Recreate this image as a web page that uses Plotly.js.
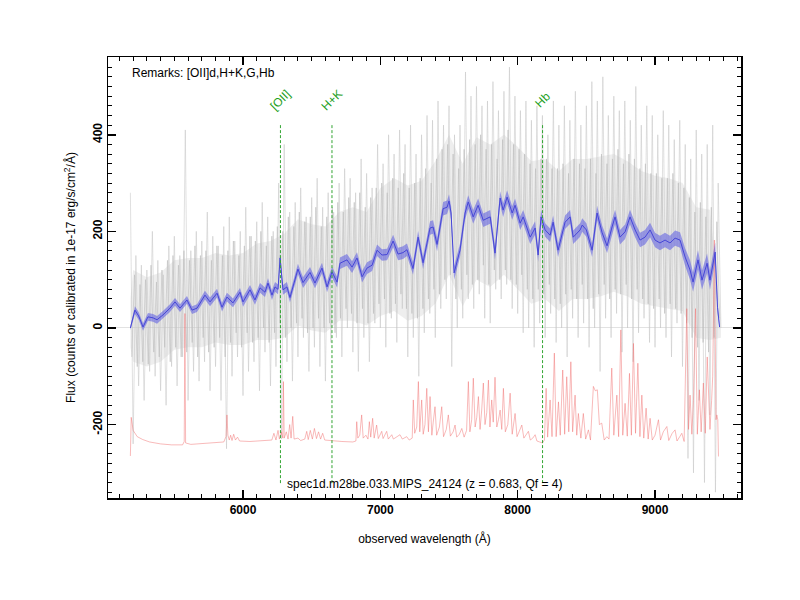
<!DOCTYPE html>
<html><head><meta charset="utf-8">
<script src="https://cdn.plot.ly/plotly-3.0.1.min.js"></script>
<style>body{margin:0;background:#fff}#c{width:800px;height:600px}</style>
</head><body><div id="c"></div>
<script>
// ---- data ----
var z = 0.683;
var lineNames = ['[OII]', 'H+K', 'Hb'];
var lineRest = [3727, 3950, 4861];
var lineTop = 420, lineBottom = -323, labelY = 472;

// gray core envelope of raw spectrum (every 100 A)
var coreWave = [5180,5200,5300,5400,5500,5600,5700,5800,5900,6000,6100,6200,6300,6400,6500,6600,6700,6800,6900,7000,7100,7200,7300,7400,7500,7600,7700,7800,7900,8000,8100,8200,8300,8400,8500,8600,8700,8800,8900,9000,9100,9200,9300,9400,9480];
var coreUpper = [60,120,105,115,140,145,145,155,150,155,175,180,195,225,215,210,240,250,240,290,310,295,305,345,400,340,395,380,400,375,345,350,325,350,350,355,360,345,325,315,310,300,250,245,20];
var coreLower = [-40,-70,-80,-70,-45,-40,-40,-30,-35,-35,-25,-25,-20,5,-5,-10,15,15,5,25,35,15,25,50,110,45,100,85,110,80,50,60,35,60,60,65,75,65,50,45,40,35,-20,-25,-20];

// raw spectrum spikes, sampled every 20 A from 5180 A
var rawStart = 5180, rawStep = 20;
var rawFlux = [
 280,-240,150,-120,130,
 -150,120,-90,200,-100,
 140,-130,110,-160,170,
 -80,190,-120,150,-60,
 410,-150,160,-90,200,
 -110,180,-70,240,-130,
 190,-80,170,-150,210,
 -250,230,-100,180,-60,
 200,-140,250,-90,190,
 -70,220,-130,260,-50,
 230,-120,200,-80,300,
 -230,380,-70,240,-110,
 260,-60,290,-20,230,
 -90,270,-40,310,-80,
 250,-110,280,-30,240,
 -20,300,-60,330,0,
 310,-50,280,-90,350,
 -20,320,-70,290,10,
 380,0,340,-40,400,
 20,360,-30,410,40,
 380,-60,420,-20,360,
 -100,400,-10,440,30,
 430,-20,470,40,420,
 60,460,-80,400,0,
 420,20,530,60,480,
 40,500,70,460,20,
 470,10,510,80,450,
 60,490,90,540,40,
 480,30,450,-10,470,
 0,430,-40,460,10,
 440,-20,400,30,470,
 -30,420,0,460,-60,
 430,20,490,-20,420,
 10,460,-40,510,0,
 470,-90,520,20,440,
 -20,480,30,450,-50,
 470,0,430,-70,500,
 -10,420,20,460,-30,
 440,-40,400,0,450,
 -20,420,-60,390,10,
 430,-80,380,-270,350,
 -300,410,-150,360,-320,
 380,-180,420,-340,300,
 0];

// raw spectrum, second set of samples, every 20 A from 5190 A
var raw2Start = 5190, raw2Step = 20;
var raw2Flux = [
 -60,110,-80,90,-70,
 100,-75,130,-50,95,
 -60,120,-40,140,-70,
 150,-40,130,-60,160,
 -50,140,-30,170,-60,
 150,-20,160,-50,140,
 -40,170,-20,150,-60,
 160,-30,180,-10,150,
 -40,170,-10,190,-30,
 180,-20,200,0,170,
 -30,190,-10,210,10,
 200,-20,230,0,210,
 10,240,20,220,-10,
 230,0,250,20,210,
 0,230,10,250,-10,
 260,20,240,40,270,
 30,260,10,280,40,
 250,10,270,30,290,
 50,300,60,280,30,
 310,50,290,70,320,
 40,290,30,300,20,
 310,40,330,60,300,
 80,350,70,370,100,
 380,110,360,60,330,
 80,370,110,390,90,
 380,100,400,130,370,
 90,380,120,350,100,
 390,120,410,100,380,
 90,370,110,360,80,
 340,60,330,80,350,
 70,350,90,330,60,
 330,50,340,70,320,
 80,350,60,340,90,
 330,60,350,40,320,
 70,360,90,340,60,
 350,80,370,70,340,
 90,360,60,350,80,
 330,60,340,50,320,
 40,320,60,310,30,
 310,50,320,40,300,
 30,290,10,270,-20,
 240,-40,260,-30,230,
 -50,250,-20,220,20];

// smoothed spectrum
var smWave = [5180,5213,5240,5272,5308,5345,5374,5417,5468,5505,5541,5592,5629,5665,5723,5760,5811,5847,5883,5927,5978,6000,6051,6087,6124,6160,6182,6211,6233,6255,6270,6291,6320,6342,6400,6437,6488,6524,6575,6612,6648,6685,6706,6757,6794,6830,6867,6903,6940,6976,7012,7049,7093,7129,7165,7194,7238,7275,7311,7362,7384,7413,7457,7486,7500,7515,7537,7580,7617,7640,7676,7712,7749,7800,7835,7872,7894,7923,7960,7981,8018,8040,8091,8127,8149,8170,8200,8236,8258,8294,8345,8382,8404,8455,8470,8500,8542,8578,8615,8651,8687,8709,8745,8782,8818,8855,8891,8927,8964,9000,9036,9073,9109,9146,9182,9219,9255,9277,9313,9342,9379,9400,9438,9455,9470];
var smFlux = [0,37,25,2,23,21,17,27,41,54,41,58,37,41,68,54,72,43,64,52,74,54,79,58,83,74,93,68,85,80,145,79,85,63,122,94,115,93,124,85,116,95,134,141,126,145,106,124,130,161,151,152,180,153,156,162,123,188,135,207,209,173,247,250,263,238,114,161,238,261,230,254,223,230,155,269,244,271,238,254,217,230,188,207,151,230,203,192,219,161,219,230,188,203,213,203,161,238,197,170,209,230,188,199,230,203,182,188,203,182,176,182,176,186,182,147,120,95,141,99,134,99,157,43,2];
var smErr = [4,8,8,8,8,8,8,8,8,8,8,8,8,8,9,9,9,9,9,9,9,10,10,10,10,10,10,10,10,10,12,10,10,10,11,11,11,11,11,11,11,11,12,12,12,12,12,12,12,12,12,12,13,13,13,13,13,13,13,14,14,14,14,14,14,14,14,14,14,14,14,14,14,14,14,14,14,14,14,14,14,14,14,14,14,14,14,14,14,14,14,14,14,14,14,14,14,15,15,15,15,15,15,15,15,15,15,15,15,15,15,15,15,16,16,18,20,20,20,20,20,20,20,12,4];

// sky / error spectrum
var skyWave = [5180,5186,5200,5230,5270,5320,5400,5480,5560,5572,5577,5582,5620,5700,5780,5860,5876,5883,5890,5900,5910,5920,5932,5945,5960,5975,6050,6150,6210,6225,6240,6255,6265,6280,6290,6294,6300,6315,6328,6340,6350,6362,6372,6400,6420,6450,6464,6475,6490,6505,6520,6535,6550,6565,6580,6595,6650,6720,6800,6822,6828,6836,6850,6864,6875,6895,6910,6920,6930,6944,6955,6973,6985,7010,7020,7046,7058,7083,7095,7120,7143,7160,7192,7210,7232,7240,7250,7265,7277,7287,7301,7312,7325,7338,7350,7362,7375,7385,7398,7410,7430,7447,7460,7480,7495,7510,7530,7544,7556,7575,7593,7610,7628,7641,7652,7665,7677,7690,7702,7714,7726,7738,7750,7762,7775,7787,7798,7811,7822,7835,7848,7860,7872,7884,7896,7910,7928,7945,7960,7981,7995,8010,8030,8045,8060,8078,8092,8110,8127,8140,8160,8180,8195,8207,8218,8236,8250,8267,8280,8297,8310,8328,8342,8357,8372,8387,8400,8418,8430,8442,8460,8478,8495,8515,8530,8551,8565,8580,8595,8612,8630,8649,8665,8685,8700,8722,8735,8751,8765,8782,8798,8814,8828,8843,8858,8875,8890,8904,8918,8935,8950,8964,8980,9000,9025,9040,9060,9086,9100,9125,9146,9160,9180,9195,9212,9231,9244,9255,9268,9280,9295,9308,9323,9336,9352,9366,9380,9400,9412,9420,9432,9444,9450,9457,9462];
var skyFlux = [-265,-185,-212,-225,-231,-236,-240,-242,-242,-235,30,-238,-241,-239,-237,-236,-225,-180,-222,-232,-222,-233,-220,-232,-226,-234,-235,-234,-232,-218,-232,-212,-230,-215,-228,-111,-228,-215,-230,-200,-228,-183,-230,-228,-233,-230,-214,-231,-212,-230,-208,-229,-215,-230,-218,-232,-234,-235,-236,-234,-194,-228,-222,-180,-228,-222,-230,-194,-226,-187,-228,-201,-229,-214,-229,-214,-230,-221,-230,-226,-221,-230,-225,-232,-228,-149,-218,-205,-111,-215,-149,-220,-200,-125,-215,-142,-222,-195,-163,-222,-205,-163,-225,-210,-180,-224,-215,-201,-226,-220,-208,-226,-212,-111,-215,-190,-104,-205,-185,-142,-210,-170,-114,-200,-175,-108,-205,-149,-195,-102,-205,-190,-170,-210,-125,-215,-200,-135,-220,-177,-225,-215,-201,-228,-222,-214,-232,-228,-221,-234,-236,-238,-232,-125,-226,-149,-225,-52,-225,-153,-222,-87,-220,-101,-215,-70,-215,-139,-222,-177,-228,-177,-230,-211,-232,-121,-130,-128,-200,-197,-232,-225,-230,-83,-222,-139,-225,-4,-222,-156,-224,-94,-222,-32,-218,-73,-225,-139,-228,-166,-230,-187,-232,-222,-190,-232,-215,-204,-233,-218,-211,-234,-225,-218,-235,40,-210,-139,-220,-150,40,-220,-128,-215,-114,-218,-60,-210,-150,-100,182,-190,-180,-190,-266];

// axes
var xRange = [5017, 9626];
var yRange = [-352, 561];
var yTickVals = [-200, 0, 200, 400];
var yTickText = ['-200', '0', '200', '400'];
var remarks = 'Remarks: [OII]d,H+K,G,Hb';
var specName = 'spec1d.m28be.033.MIPS_24124 (z = 0.683, Qf = 4)';

// ---- build traces ----
var rawWave = rawFlux.map(function(v, i){ return rawStart + rawStep * i; });
var raw2Wave = raw2Flux.map(function(v, i){ return raw2Start + raw2Step * i; });
var coreX = coreWave.concat(coreWave.slice().reverse());
var coreY = coreUpper.concat(coreLower.slice().reverse());
var bandX = smWave.concat(smWave.slice().reverse());
var bandY = smFlux.map(function(v,i){return v + smErr[i];})
  .concat(smFlux.map(function(v,i){return v - smErr[i];}).reverse());

var traces = [
  {x: coreX, y: coreY, mode: 'lines', fill: 'toself', fillcolor: 'rgba(205,205,205,0.35)',
   line: {width: 0}, hoverinfo: 'skip', showlegend: false},
  {x: rawWave, y: rawFlux, mode: 'lines', line: {color: 'rgba(200,200,200,0.7)', width: 0.8},
   showlegend: false},
  {x: raw2Wave, y: raw2Flux, mode: 'lines', line: {color: 'rgba(190,190,190,0.75)', width: 0.8},
   showlegend: false},
  {x: skyWave, y: skyFlux, mode: 'lines', line: {color: 'rgba(240,110,110,0.6)', width: 0.8},
   showlegend: false},
  {x: bandX, y: bandY, mode: 'lines', fill: 'toself', fillcolor: 'rgba(90,90,225,0.55)',
   line: {width: 0}, hoverinfo: 'skip', showlegend: false},
  {x: smWave, y: smFlux, mode: 'lines', line: {color: 'rgb(70,70,215)', width: 1},
   showlegend: false},
  {x: xRange, y: yRange, xaxis: 'x2', yaxis: 'y2', mode: 'markers', marker: {opacity: 0},
   hoverinfo: 'skip', showlegend: false}
];

var annotations = [
  {xref: 'paper', yref: 'paper', x: 0.035, y: 0.985, xanchor: 'left', yanchor: 'top',
   text: remarks, showarrow: false, font: {family: 'Liberation Sans, Arial', size: 12, color: '#000'}},
  {xref: 'paper', yref: 'paper', x: 0.5, y: 0.012, xanchor: 'center', yanchor: 'bottom',
   text: specName, showarrow: false, font: {family: 'Liberation Sans, Arial', size: 12, color: '#000'}}
];
lineNames.forEach(function(n, i){
  var w = lineRest[i] * (1 + z);
  traces.push({x: [w, w], y: [lineTop, lineBottom], mode: 'lines',
    line: {color: 'rgb(50,165,50)', width: 1, dash: '3px,2px'}, showlegend: false});
  annotations.push({x: w, y: labelY, xref: 'x', yref: 'y', text: n, showarrow: false,
    textangle: -45, xanchor: 'center', yanchor: 'middle',
    font: {family: 'Liberation Sans, Arial', size: 12, color: 'rgb(30,160,30)'}});
});

var axisCommon = {
  showline: true, linecolor: '#000', linewidth: 1.5, mirror: false,
  ticks: 'inside', ticklen: 8, tickwidth: 1.5, tickcolor: '#000',
  showgrid: false,
  tickfont: {family: 'Liberation Sans, Arial', size: 12, color: '#000', weight: 'bold'}
};
var xMinor = {tickmode: 'linear', tick0: 0, dtick: 100, ticks: 'inside', ticklen: 4, tickwidth: 1, tickcolor: '#000'};
var yMinor = {tickmode: 'linear', tick0: 0, dtick: 20, ticks: 'inside', ticklen: 4, tickwidth: 1, tickcolor: '#000'};

var layout = {
  width: 800, height: 600,
  margin: {l: 108, r: 59, t: 57, b: 102},
  paper_bgcolor: '#fff', plot_bgcolor: '#fff',
  showlegend: false,
  xaxis: Object.assign({}, axisCommon, {
    range: xRange, tickmode: 'linear', tick0: 0, dtick: 1000, zeroline: false,
    minor: xMinor,
    title: {text: 'observed wavelength (Å)', standoff: 18,
      font: {family: 'Liberation Sans, Arial', size: 12, color: '#000'}}
  }),
  yaxis: Object.assign({}, axisCommon, {
    range: yRange, tickmode: 'array', tickvals: yTickVals, ticktext: yTickText, tickangle: -90,
    zeroline: true, zerolinecolor: '#e2e2e2', zerolinewidth: 1,
    minor: yMinor,
    title: {text: 'Flux (counts or calibrated in 1e-17 erg/s/cm<sup>2</sup>/Å)', standoff: 12,
      font: {family: 'Liberation Sans, Arial', size: 12, color: '#000'}}
  }),
  xaxis2: Object.assign({}, axisCommon, {
    range: xRange, overlaying: 'x', side: 'top', anchor: 'y2', tickmode: 'linear', tick0: 0, dtick: 1000,
    zeroline: false, showticklabels: false, minor: xMinor
  }),
  yaxis2: Object.assign({}, axisCommon, {
    range: yRange, overlaying: 'y', side: 'right', anchor: 'x2', tickmode: 'array', tickvals: yTickVals,
    zeroline: false, showticklabels: false, minor: yMinor
  }),
  annotations: annotations
};

Plotly.newPlot('c', traces, layout, {displayModeBar: false, staticPlot: true});
</script>
</body></html>
